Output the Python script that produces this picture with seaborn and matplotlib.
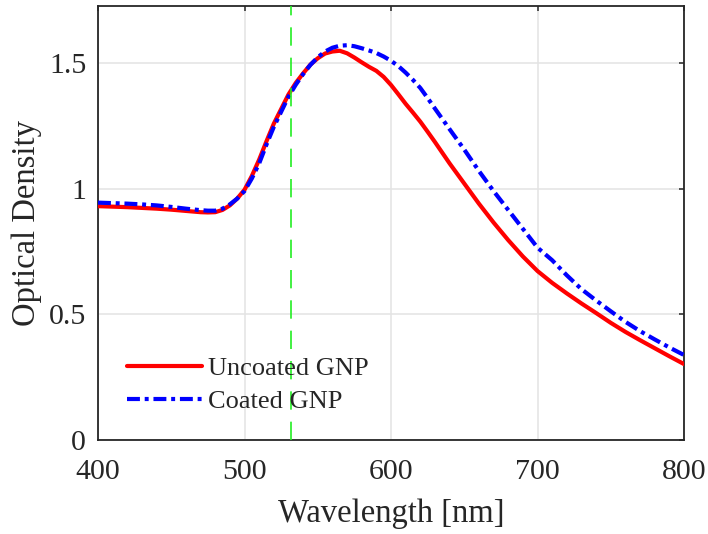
import seaborn as sns
from matplotlib import pyplot as plt
import numpy as np

# wavelength grid (nm) and optical density
wavelength = [400, 410, 420, 430, 440, 450, 460, 470, 475, 480, 485, 490, 495,
              500, 505, 510, 515, 520, 525, 530, 535, 540, 545, 550, 555,
              560, 565, 570, 575, 580, 585, 590, 595, 600, 605, 610, 615,
              620, 625, 630, 640, 650, 660, 670, 680, 690, 700,
              710, 720, 730, 740, 750, 760, 770, 780, 790, 800]

uncoated = [0.930, 0.928, 0.926, 0.923, 0.920, 0.916, 0.911, 0.906, 0.905, 0.906, 0.915, 0.933, 0.960,
            0.995, 1.050, 1.115, 1.188, 1.258, 1.316, 1.374, 1.420, 1.458, 1.493, 1.518, 1.537,
            1.545, 1.548, 1.538, 1.521, 1.502, 1.484, 1.468, 1.444, 1.412, 1.375, 1.337, 1.302,
            1.266, 1.226, 1.185, 1.100, 1.020, 0.940, 0.865, 0.795, 0.730, 0.672,
            0.625, 0.583, 0.543, 0.505, 0.466, 0.430, 0.397, 0.365, 0.333, 0.302]

coated = [0.944, 0.942, 0.940, 0.937, 0.933, 0.927, 0.920, 0.914, 0.912, 0.912, 0.920, 0.937, 0.960,
          0.990, 1.040, 1.100, 1.175, 1.245, 1.305, 1.365, 1.413, 1.455, 1.492, 1.522, 1.545,
          1.560, 1.568, 1.570, 1.566, 1.558, 1.549, 1.539, 1.525, 1.508, 1.487, 1.461, 1.432,
          1.400, 1.360, 1.318, 1.236, 1.155, 1.070, 0.990, 0.915, 0.840, 0.765,
          0.715, 0.655, 0.600, 0.555, 0.512, 0.470, 0.433, 0.400, 0.368, 0.338]

laser_line = 532
xticks = [400, 500, 600, 700, 800]
yticks = [0, 0.5, 1, 1.5]
ytick_labels = ['0', '0.5', '1', '1.5']


def plot_od():
    sns.set_style('white')
    plt.rcParams['font.family'] = ['Liberation Serif', 'DejaVu Serif']

    fig = plt.figure(figsize=(7.08, 5.34), dpi=100)
    ax = fig.add_axes([98 / 708, 1 - 440 / 534, 586 / 708, 434 / 534])

    ax.grid(True, color='#e3e3e3', lw=1.1, zorder=0)
    ax.set_axisbelow(True)

    sns.lineplot(x=wavelength, y=uncoated, color='#ff0000', lw=3,
                 label='Uncoated GNP', ax=ax, zorder=3)
    sns.lineplot(x=wavelength, y=coated, color='#0000ff', lw=3,
                 label='Coated GNP', ax=ax, zorder=4,
                 linestyle=(0, (3.1, 1.15, 0.95, 1.15)))
    ax.axvline(laser_line, color='#22ee22', lw=1.2, dashes=(11, 7.2), zorder=5)

    ax.set_xlim(400, 800)
    ax.set_ylim(0, 1.726)
    ax.set_xticks(xticks)
    ax.set_yticks(yticks)
    ax.set_yticklabels(ytick_labels)

    ax.tick_params(direction='in', length=3.6, width=1.1, top=True, right=True,
                   labelsize=21.5, colors='#262626')
    ax.tick_params(axis='x', pad=13.5)
    ax.tick_params(axis='y', pad=8.5)
    for sp in ax.spines.values():
        sp.set_color('#262626')
        sp.set_linewidth(1.3)

    ax.set_xlabel('Wavelength [nm]', fontsize=23.5, color='#262626', labelpad=10)
    ax.set_ylabel('Optical Density', fontsize=23.5, color='#262626', labelpad=5)

    ax.legend(loc='center left', bbox_to_anchor=(0.049, 0.127), frameon=False,
              fontsize=19, handlelength=2.84, handletextpad=0.25,
              labelspacing=0.38, borderpad=0, borderaxespad=0)

    fig.savefig('out.png', dpi=100)


if __name__ == '__main__':
    plot_od()
